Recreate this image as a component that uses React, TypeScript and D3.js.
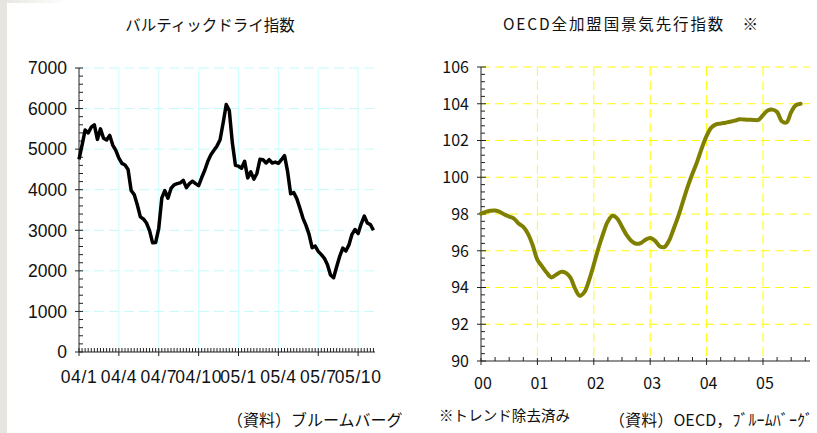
import * as d3 from "d3";

// Baltic Dry Index, weekly from the first week of 2004
const bdiQuarterLabels = ["04/1", "04/4", "04/7", "04/10", "05/1", "05/4", "05/7", "05/10"];
const bdiYTicks = [0, 1000, 2000, 3000, 4000, 5000, 6000, 7000];
const bdiWeekly = [
  4750, 5100, 5470, 5400, 5540, 5600, 5240, 5500, 5270, 5225,
  5340, 5100, 4970, 4780, 4650, 4610, 4500, 3980, 3880, 3630,
  3330, 3280, 3180, 2990, 2690, 2700, 3050, 3800, 3980, 3790,
  4030, 4120, 4150, 4170, 4230, 4050, 4150, 4210, 4150, 4100,
  4300, 4480, 4700, 4860, 4970, 5080, 5230, 5650, 6100, 5950,
  5150, 4600, 4580, 4530, 4700, 4290, 4440, 4260, 4400, 4750,
  4740, 4660, 4740, 4660, 4680, 4650, 4740, 4840, 4450, 3900,
  3930, 3780, 3550, 3300, 3120, 2900, 2570, 2610, 2480, 2400,
  2310, 2150, 1900, 1830, 2100, 2360, 2560, 2490, 2640, 2900,
  3020, 2920, 3160, 3350, 3180, 3140, 3000,
];

// OECD composite leading indicator (detrended), monthly from Jan 2000
const cliYearLabels = ["00", "01", "02", "03", "04", "05"];
const cliYTicks = [90, 92, 94, 96, 98, 100, 102, 104, 106];
const cliMonthly = [
  98.02, 98.12, 98.18, 98.19, 98.12, 97.97, 97.86, 97.75, 97.48, 97.3,
  96.92, 96.3, 95.5, 95.15, 94.8, 94.55, 94.7, 94.85, 94.8, 94.55,
  93.95, 93.55, 93.75, 94.4, 95.25, 96.15, 96.94, 97.6, 97.9, 97.75,
  97.3, 96.85, 96.53, 96.38, 96.42, 96.6, 96.7, 96.55, 96.25, 96.2,
  96.55, 97.2, 97.9, 98.7, 99.5, 100.2, 100.85, 101.6, 102.25, 102.7,
  102.88, 102.92, 102.97, 103.02, 103.08, 103.16, 103.14, 103.13, 103.12, 103.12,
  103.38, 103.63, 103.68, 103.55, 103.05, 102.98, 103.55, 103.92, 104.0,
];

const jp = "'Noto Sans CJK JP', sans-serif";
const latin = "'Liberation Sans', Arial, sans-serif";

function BdiChart() {
  const x = d3.scaleLinear().domain([0, 96.5]).range([79, 375]);
  const y = d3.scaleLinear().domain([0, 7000]).range([352, 68]);
  const line = d3
    .line<number>()
    .x((_, i) => x(i))
    .y((d) => y(d));
  const [x0, x1] = x.range();
  const majorIdx = bdiQuarterLabels.map((_, i) => i * 13);
  const minorX = d3.range(1, 97).filter((i) => i % 13 !== 0);
  const minorY = d3.range(200, 7000, 200).filter((v) => v % 1000 !== 0);

  return (
    <g>
      <text x={210} y={31} textAnchor="middle" fontFamily={jp} fontSize={15.5} fill="#111">
        バルティックドライ指数
      </text>
      {/* grid */}
      {majorIdx.slice(1).map((i) => (
        <line key={`gx${i}`} x1={x(i)} x2={x(i)} y1={y(7000)} y2={y(0)} stroke="#ccffff" strokeWidth={1} />
      ))}
      {bdiYTicks.slice(1).map((v) => (
        <line key={`gy${v}`} x1={x0} x2={x1} y1={y(v)} y2={y(v)} stroke="#c4fafa" strokeWidth={1} strokeDasharray="10,5" />
      ))}
      {/* axes */}
      <line x1={x0} x2={x0} y1={y(7000)} y2={y(0)} stroke="#222" />
      <line x1={x0} x2={x1} y1={y(0)} y2={y(0)} stroke="#222" />
      {minorY.map((v) => (
        <line key={`my${v}`} x1={x0} x2={x0 + 4} y1={y(v)} y2={y(v)} stroke="#222" />
      ))}
      {bdiYTicks.map((v) => (
        <g key={`ty${v}`}>
          <line x1={x0 - 4} x2={x0 + 4} y1={y(v)} y2={y(v)} stroke="#222" />
          <text x={x0 - 12} y={y(v)} dy="0.36em" textAnchor="end" fontFamily={latin} fontSize={17.5} fill="#111">
            {v}
          </text>
        </g>
      ))}
      {minorX.map((i) => (
        <line key={`mx${i}`} x1={x(i)} x2={x(i)} y1={y(0) - 4} y2={y(0)} stroke="#222" />
      ))}
      {majorIdx.map((i, k) => (
        <g key={`tx${i}`}>
          <line x1={x(i)} x2={x(i)} y1={y(0) - 4} y2={y(0) + 4} stroke="#222" />
          <text
            x={x(i)}
            y={383}
            textAnchor="middle"
            fontFamily={latin}
            fontSize={17.5}
            letterSpacing={0.6}
            fill="#111"
          >
            {bdiQuarterLabels[k]}
          </text>
        </g>
      ))}
      <path d={line(bdiWeekly) ?? ""} fill="none" stroke="#000" strokeWidth={3.5} strokeLinejoin="round" />
      <text x={227} y={426} fontFamily={jp} fontSize={16} fill="#111">
        （資料）ブルームバーグ
      </text>
    </g>
  );
}

function CliChart() {
  const x = d3.scaleLinear().domain([0, 70]).range([481, 810]);
  const y = d3.scaleLinear().domain([90, 106]).range([361, 67]);
  const line = d3
    .line<number>()
    .x((_, i) => x(i))
    .y((d) => y(d))
    .curve(d3.curveCatmullRom);
  const [x0, x1] = x.range();
  const yearMonths = cliYearLabels.map((_, i) => i * 12);
  const minorX = d3.range(3, 70, 3).filter((m) => m % 12 !== 0);
  const minorY = d3.range(90.4, 106, 0.4).filter((v) => Math.abs(v / 2 - Math.round(v / 2)) > 0.05);

  return (
    <g>
      <text x={503} y={30} fontFamily={jp} fontSize={15.5} fill="#111" textLength={255} lengthAdjust="spacing">
        OECD全加盟国景気先行指数　※
      </text>
      {yearMonths.slice(1).map((m) => (
        <line key={`gx${m}`} x1={x(m)} x2={x(m)} y1={y(106)} y2={y(90)} stroke="#ffff00" strokeWidth={1} strokeDasharray="9,5" />
      ))}
      {cliYTicks.slice(1).map((v) => (
        <line key={`gy${v}`} x1={x0} x2={x1} y1={y(v)} y2={y(v)} stroke="#ffff00" strokeWidth={1} strokeDasharray="9,5" />
      ))}
      <line x1={x0} x2={x0} y1={y(106)} y2={y(90)} stroke="#222" />
      <line x1={x0} x2={x1} y1={y(90)} y2={y(90)} stroke="#222" />
      {minorY.map((v) => (
        <line key={`my${v.toFixed(1)}`} x1={x0} x2={x0 + 4} y1={y(v)} y2={y(v)} stroke="#222" />
      ))}
      {cliYTicks.map((v) => (
        <g key={`ty${v}`}>
          <line x1={x0 - 4} x2={x0 + 5} y1={y(v)} y2={y(v)} stroke="#222" />
          <text x={469} y={y(v)} dy="0.36em" textAnchor="end" fontFamily={jp} fontSize={16} fill="#111">
            {v}
          </text>
        </g>
      ))}
      {minorX.map((m) => (
        <line key={`mx${m}`} x1={x(m)} x2={x(m)} y1={y(90) - 4} y2={y(90)} stroke="#222" />
      ))}
      {yearMonths.map((m, k) => (
        <g key={`tx${m}`}>
          <line x1={x(m)} x2={x(m)} y1={y(90) - 3} y2={y(90) + 4} stroke="#222" />
          <text x={x(m) + 2} y={388.5} textAnchor="middle" fontFamily={jp} fontSize={16} fill="#111">
            {cliYearLabels[k]}
          </text>
        </g>
      ))}
      <path d={line(cliMonthly) ?? ""} fill="none" stroke="#808000" strokeWidth={4} strokeLinejoin="round" strokeLinecap="round" />
      <text x={439} y={421} fontFamily={jp} fontSize={14.5} fill="#111" textLength={131} lengthAdjust="spacing">
        ※トレンド除去済み
      </text>
      <text x={609} y={426} fontFamily={jp} fontSize={16} fill="#111" textLength={204} lengthAdjust="spacing">
        （資料）OECD，ﾌﾞﾙｰﾑﾊﾞｰｸﾞ
      </text>
    </g>
  );
}

export default function App() {
  return (
    <svg
      width={817}
      height={433}
      viewBox="0 0 817 433"
      style={{ position: "absolute", left: 0, top: 0, background: "#fff" }}
    >
      <defs>
        <linearGradient id="topfade" x1="0" x2="1" y1="0" y2="0">
          <stop offset="0" stopColor="#e6e5e0" />
          <stop offset="1" stopColor="#ffffff" />
        </linearGradient>
      </defs>
      <rect x={0} y={0} width={817} height={433} fill="#fff" />
      <rect x={0} y={0} width={70} height={3} fill="url(#topfade)" />
      <rect x={0} y={0} width={7} height={433} fill="#e6e5e0" />
      <BdiChart />
      <CliChart />
    </svg>
  );
}
